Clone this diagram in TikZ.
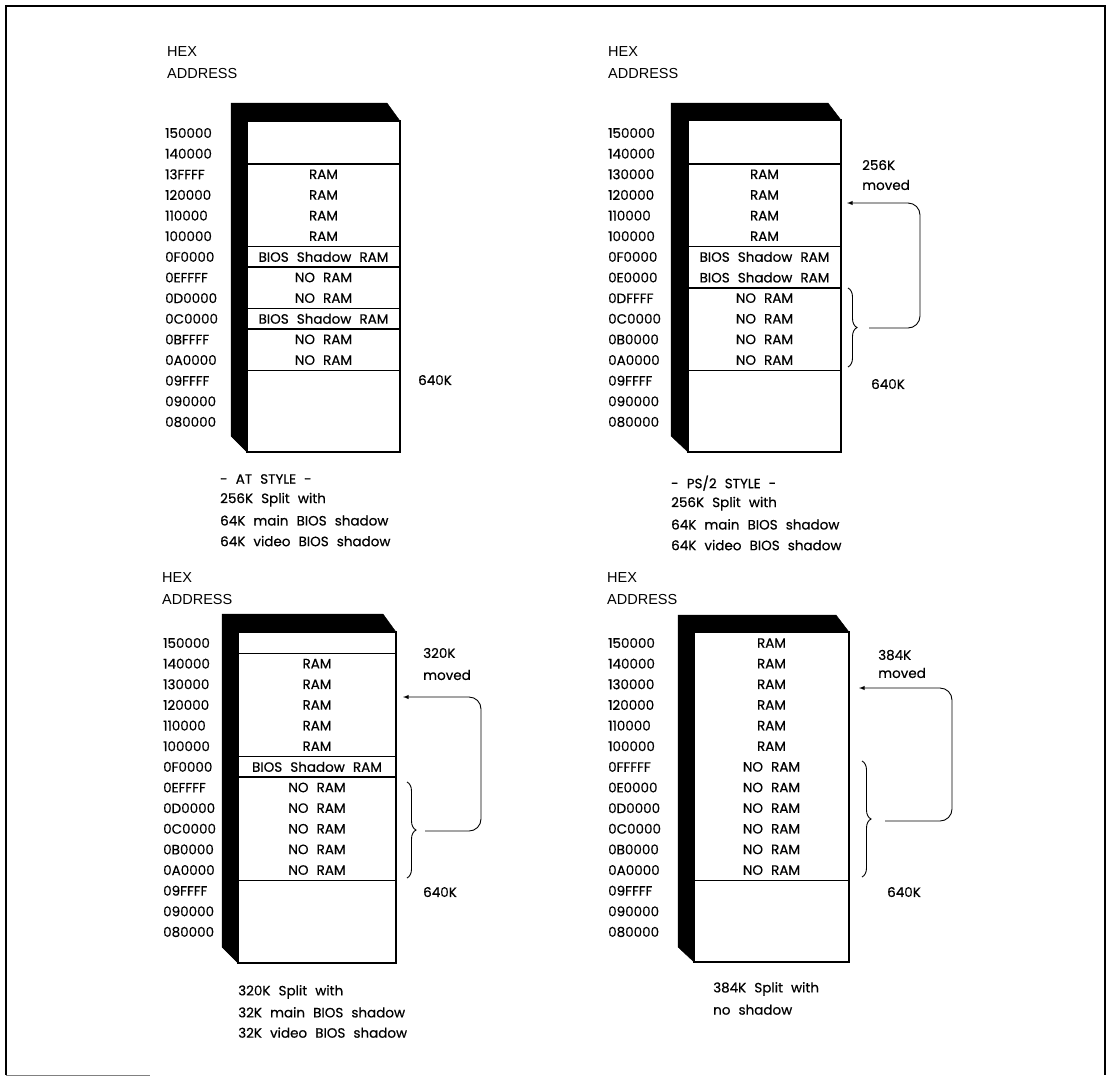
\documentclass[tikz,border=0pt]{standalone}
\usepackage{fontspec}
\setmainfont{Poppins}[FakeBold=0.5]
\newfontfamily\hexfont{Liberation Sans}
\usetikzlibrary{arrows,decorations.pathreplacing}
\newcommand\widesp{\spaceskip=0.6em plus 0.1em\relax}

\tikzset{
  addr/.style={anchor=west, inner sep=0pt, font=\fontsize{13.5}{16}\selectfont\widesp},
  cell/.style={inner sep=0pt, font=\fontsize{13.5}{16}\selectfont\widesp},
  note/.style={anchor=west, inner sep=0pt, font=\fontsize{13.5}{16}\selectfont\widesp},
  hex/.style={anchor=west, inner sep=0pt, font=\hexfont\fontsize{14.5}{16}\selectfont},
  sep/.style={line width=1.5pt},
  box/.style={line width=2pt},
  moved/.style={-latex, line width=0.9pt, rounded corners=12pt},
  brc/.style={decorate, decoration={brace, amplitude=9pt}, line width=0.9pt},
}

\begin{document}
\begin{tikzpicture}[x=1pt, y=-1pt]
\useasboundingbox (0,0) rectangle (1111,1077);
\draw[line width=2.5pt] (6,1075) -- (6,6) -- (1105,6) -- (1105,1075);
\draw[gray, line width=0.6pt] (6,1075) -- (150,1075);

% top left: AT style
\node[hex] (tlhex) at (167,52) {HEX};
\node[hex] (tladdr) at (167,74) {ADDRESS};
\filldraw (231,103) -- (387,103) -- (400,121) -- (247,121) -- (247,452) -- (231,436) -- cycle;
\draw[box, fill=white] (247,121) rectangle (400,452);
\foreach \lab [count=\i from 0] in {150000,140000,13FFFF,120000,110000,100000,0F0000,0EFFFF,0D0000,0C0000,0BFFFF,0A0000,09FFFF,090000,080000}
  \node[addr] (tla\i) at (165,{133+20.64*\i}) {\lab};
\foreach \txt [count=\i from 0] in {{},{},RAM,RAM,RAM,RAM,BIOS Shadow RAM,NO RAM,NO RAM,BIOS Shadow RAM,NO RAM,NO RAM}
  \node[cell] (tlc\i) at (323.5,{133+20.64*\i}) {\txt};
\foreach \i in {1,5,6,8,9,11}
  \draw[sep] (247,{143.3+20.64*\i}) -- (400,{143.3+20.64*\i});
\node[note] (tlk) at (418,380) {640K};
\foreach \txt [count=\i from 0] in {- AT STYLE -,256K Split with,64K main BIOS shadow,64K video BIOS shadow}
  \node[note] (tln\i) at (220,{479+20.7*\i}) {\txt};

% top right: PS/2 style
\node[hex] (trhex) at (608,52) {HEX};
\node[hex] (traddr) at (608,74) {ADDRESS};
\filldraw (671,103) -- (828,103) -- (841,120) -- (688,120) -- (688,452) -- (671,436) -- cycle;
\draw[box, fill=white] (688,120) rectangle (841,452);
\foreach \lab [count=\i from 0] in {150000,140000,130000,120000,110000,100000,0F0000,0E0000,0DFFFF,0C0000,0B0000,0A0000,09FFFF,090000,080000}
  \node[addr] (tra\i) at (608,{133+20.64*\i}) {\lab};
\foreach \txt [count=\i from 0] in {{},{},RAM,RAM,RAM,RAM,BIOS Shadow RAM,BIOS Shadow RAM,NO RAM,NO RAM,NO RAM,NO RAM}
  \node[cell] (trc\i) at (764.5,{133+20.64*\i}) {\txt};
\foreach \i in {1,5,7,11}
  \draw[sep] (688,{143.3+20.64*\i}) -- (841,{143.3+20.64*\i});
\node[note] (trk) at (871,384) {640K};
\node[note] (trm1) at (862,165) {256K};
\node[note] (trm2) at (862,185) {moved};
\coordinate (trb1) at (848,288);
\coordinate (trb2) at (848,367);
\coordinate (trfrom) at (869,328);
\coordinate (trbend) at (920,203);
\coordinate (trto) at (847,203);
\draw[brc] (trb1) -- (trb2);
\draw[moved] (trfrom) -| (trbend) -- (trto);
\foreach \txt [count=\i from 0] in {- PS/2 STYLE -,256K Split with,64K main BIOS shadow,64K video BIOS shadow}
  \node[note] (trn\i) at (671,{483+20.7*\i}) {\txt};

% bottom left: 320K split
\node[hex] (blhex) at (162,578) {HEX};
\node[hex] (bladdr) at (162,599) {ADDRESS};
\filldraw (222,614) -- (383,614) -- (396,632) -- (238,632) -- (238,963) -- (222,947) -- cycle;
\draw[box, fill=white] (238,632) rectangle (396,963);
\foreach \lab [count=\i from 0] in {150000,140000,130000,120000,110000,100000,0F0000,0EFFFF,0D0000,0C0000,0B0000,0A0000,09FFFF,090000,080000}
  \node[addr] (bla\i) at (163,{643+20.64*\i}) {\lab};
\foreach \txt [count=\i from 0] in {{},RAM,RAM,RAM,RAM,RAM,BIOS Shadow RAM,NO RAM,NO RAM,NO RAM,NO RAM,NO RAM}
  \node[cell] (blc\i) at (317,{643+20.64*\i}) {\txt};
\foreach \i in {0,5,6,11}
  \draw[sep] (238,{653.3+20.64*\i}) -- (396,{653.3+20.64*\i});
\node[note] (blk) at (423,892) {640K};
\node[note] (blm1) at (423,653) {320K};
\node[note] (blm2) at (423,675) {moved};
\coordinate (blb1) at (407,782);
\coordinate (blb2) at (407,878);
\coordinate (blfrom) at (425,831);
\coordinate (blbend) at (481,697);
\coordinate (blto) at (403,697);
\draw[brc] (blb1) -- (blb2);
\draw[moved] (blfrom) -| (blbend) -- (blto);
\foreach \txt [count=\i from 0] in {320K Split with,32K main BIOS shadow,32K video BIOS shadow}
  \node[note] (bln\i) at (238,{992+20.3*\i}) {\txt};

% bottom right: 384K split
\node[hex] (brhex) at (607,578) {HEX};
\node[hex] (braddr) at (607,599) {ADDRESS};
\filldraw (678,615) -- (836,615) -- (849,632) -- (694,632) -- (694,962) -- (678,947) -- cycle;
\draw[box, fill=white] (694,632) rectangle (849,962);
\foreach \lab [count=\i from 0] in {150000,140000,130000,120000,110000,100000,0FFFFF,0E0000,0D0000,0C0000,0B0000,0A0000,09FFFF,090000,080000}
  \node[addr] (bra\i) at (608,{643+20.64*\i}) {\lab};
\foreach \txt [count=\i from 0] in {RAM,RAM,RAM,RAM,RAM,RAM,NO RAM,NO RAM,NO RAM,NO RAM,NO RAM,NO RAM}
  \node[cell] (brc\i) at (771.5,{643+20.64*\i}) {\txt};
\draw[sep] (694,{653.3+20.64*11}) -- (849,{653.3+20.64*11});
\node[note] (brk) at (887,892) {640K};
\node[note] (brm1) at (878,655) {384K};
\node[note] (brm2) at (878,673) {moved};
\coordinate (brb1) at (862,761);
\coordinate (brb2) at (862,877);
\coordinate (brfrom) at (885,821);
\coordinate (brbend) at (952,688);
\coordinate (brto) at (859,688);
\draw[brc] (brb1) -- (brb2);
\draw[moved] (brfrom) -| (brbend) -- (brto);
\foreach \txt [count=\i from 0] in {384K Split with,no shadow}
  \node[note] (brn\i) at (713,{989+20.7*\i}) {\txt};
\end{tikzpicture}
\end{document}
